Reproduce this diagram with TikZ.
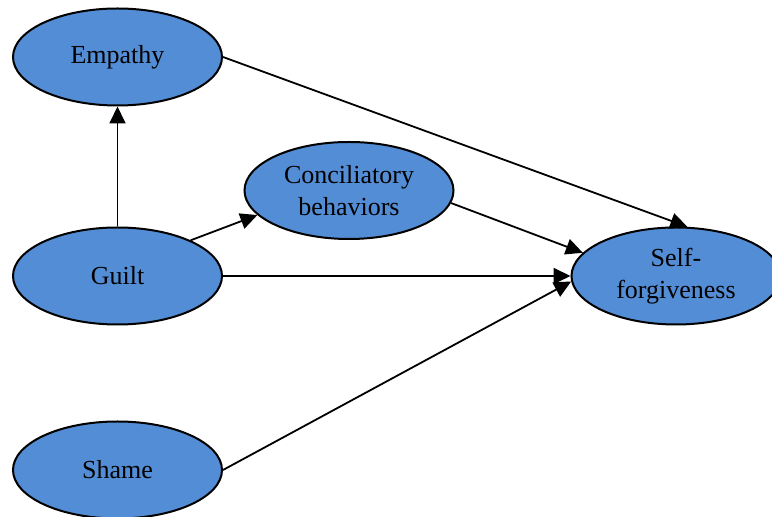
\documentclass[tikz,border=0pt]{standalone}
\usepackage{fontspec}
\setmainfont{Liberation Serif}
\usetikzlibrary{shapes.geometric,arrows.meta}
\definecolor{nodeblue}{RGB}{83,141,213}
\tikzset{
  var/.style={ellipse, draw=black, line width=1pt, fill=nodeblue,
    minimum width=104.5pt, minimum height=48.5pt, inner sep=0pt,
    align=center, font=\fontsize{13pt}{16pt}\selectfont},
  path/.style={draw=black, line width=0.9pt,
    -{Triangle[length=8.5pt,width=8pt]}}
}
\begin{document}
\begin{tikzpicture}[x=0.5pt,y=-0.5pt]
  \clip (0,0) rectangle (772,517);
  \node[var] (emp)  at (117.5,57)   {Empathy};
  \node[var] (guilt) at (117.5,276) {Guilt};
  \node[var] (shame) at (117.5,470)  {Shame};
  \node[var] (conc) at (349,190.5)  {Conciliatory\\behaviors};
  \node[var] (sf)   at (676,276)    {Self-\\forgiveness};

  \draw[path] (guilt.north) -- (emp.south);
  \draw[path] (guilt.26) -- (conc.195);
  \draw[path] (emp.east) -- (sf.77);
  \draw[path] (conc.353) -- (sf.166);
  \draw[path] (guilt.east) -- (sf.west);
  \draw[path] (shame.east) -- (sf.183);
\end{tikzpicture}
\end{document}
